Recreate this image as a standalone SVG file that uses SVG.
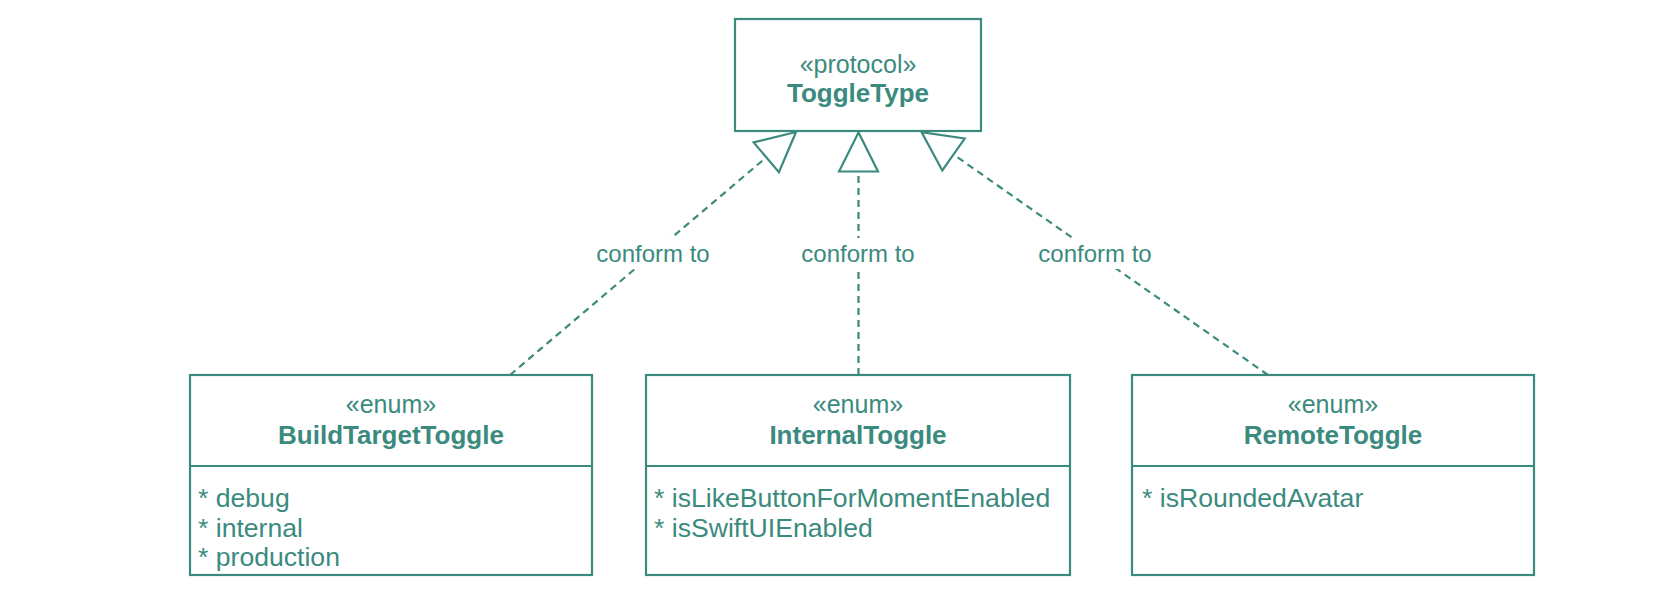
<svg xmlns="http://www.w3.org/2000/svg" width="1680" height="594" viewBox="0 0 1680 594">
  <style>
    .box { fill: #ffffff; stroke: #3b8a7e; stroke-width: 2.2; }
    .div { stroke: #3b8a7e; stroke-width: 2.2; }
    .t { font-family: "Liberation Sans", Arial, Helvetica, sans-serif; fill: #3b8a7e; }
    .st { font-size: 25px; text-anchor: middle; }
    .nm { font-size: 26px; font-weight: bold; text-anchor: middle; }
    .at { font-size: 26.6px; }
    .lb { font-size: 24px; text-anchor: middle; }
    .conn { stroke: #3b8a7e; stroke-width: 2.2; stroke-dasharray: 7 5; fill: none; }
    .lbg { fill: #ffffff; }
  </style>
  <defs>
    <marker id="realize" markerUnits="userSpaceOnUse" markerWidth="44" markerHeight="44" viewBox="-2 -22 44 44" refX="0" refY="0" orient="auto">
      <path d="M0,-19.5 L39,0 L0,19.5 Z" fill="#ffffff" stroke="#3b8a7e" stroke-width="2.2" stroke-dasharray="none" stroke-linejoin="miter"/>
    </marker>
  </defs>
  <rect width="1680" height="594" fill="#ffffff"/>

  <g id="connectors">
    <line class="conn" x1="510" y1="375" x2="766.3" y2="157.3" marker-end="url(#realize)"/>
    <line class="conn" x1="858.5" y1="375" x2="858.5" y2="171.5" marker-end="url(#realize)"/>
    <line class="conn" x1="1268" y1="375" x2="953.5" y2="154.5" marker-end="url(#realize)"/>
    <rect class="lbg" x="593" y="238" width="120" height="31"/>
    <text class="t lb" x="653" y="262">conform to</text>
    <rect class="lbg" x="798" y="238" width="120" height="31"/>
    <text class="t lb" x="858" y="262">conform to</text>
    <rect class="lbg" x="1035" y="238" width="120" height="31"/>
    <text class="t lb" x="1095" y="262">conform to</text>
  </g>

  <g id="ToggleType">
    <rect class="box" x="735" y="19" width="246" height="112"/>
    <text class="t st" x="858" y="73">«protocol»</text>
    <text class="t nm" x="858" y="102">ToggleType</text>
  </g>

  <g id="BuildTargetToggle">
    <rect class="box" x="190" y="375" width="402" height="200"/>
    <line class="div" x1="190" y1="466" x2="592" y2="466"/>
    <text class="t st" x="391" y="413">«enum»</text>
    <text class="t nm" x="391" y="444">BuildTargetToggle</text>
    <text class="t at" x="198" y="507">* debug</text>
    <text class="t at" x="198" y="536.5">* internal</text>
    <text class="t at" x="198" y="566">* production</text>
  </g>

  <g id="InternalToggle">
    <rect class="box" x="646" y="375" width="424" height="200"/>
    <line class="div" x1="646" y1="466" x2="1070" y2="466"/>
    <text class="t st" x="858" y="413">«enum»</text>
    <text class="t nm" x="858" y="444">InternalToggle</text>
    <text class="t at" x="654" y="507">* isLikeButtonForMomentEnabled</text>
    <text class="t at" x="654" y="536.5">* isSwiftUIEnabled</text>
  </g>

  <g id="RemoteToggle">
    <rect class="box" x="1132" y="375" width="402" height="200"/>
    <line class="div" x1="1132" y1="466" x2="1534" y2="466"/>
    <text class="t st" x="1333" y="413">«enum»</text>
    <text class="t nm" x="1333" y="444">RemoteToggle</text>
    <text class="t at" x="1142" y="507">* isRoundedAvatar</text>
  </g>
</svg>
